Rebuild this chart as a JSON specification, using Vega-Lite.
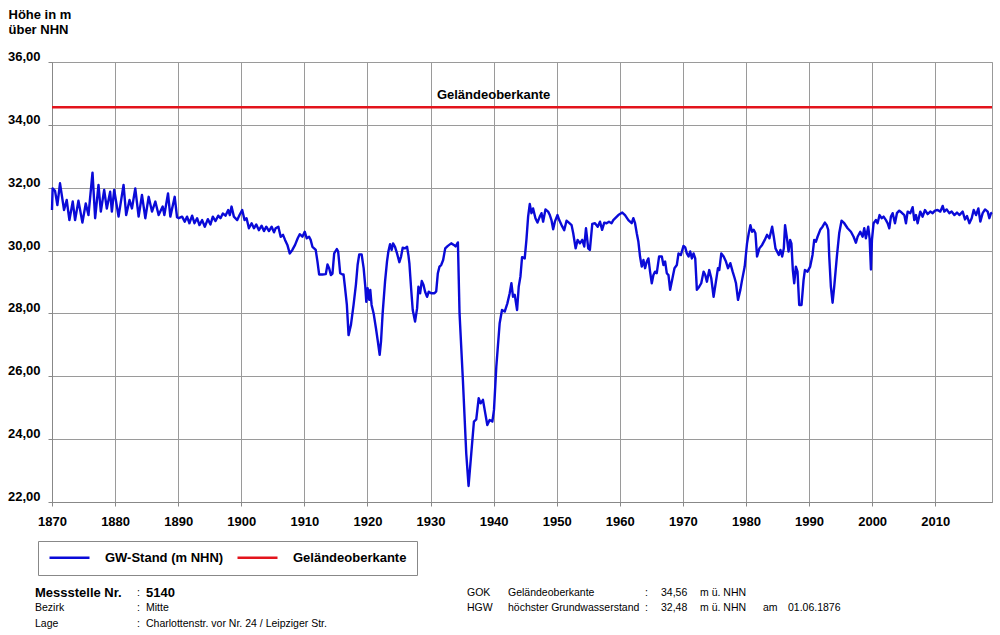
{
  "$schema": "https://vega.github.io/schema/vega-lite/v6.json",
  "width": 940,
  "height": 440,
  "autosize": {"type": "none"},
  "padding": {"left": 52, "top": 62, "right": 8, "bottom": 133},
  "background": "white",
  "config": {"font": "Liberation Sans", "view": {"stroke": "#999", "strokeWidth": 1}},
  "datasets": {
    "gw": [
      {"t":1870.0,"v":31.29},{"t":1870.1,"v":31.98},{"t":1870.48,"v":31.9},{"t":1870.85,"v":31.45},{"t":1871.27,"v":32.14},{"t":1871.91,"v":31.29},{"t":1872.33,"v":31.61},{"t":1872.76,"v":30.97},{"t":1873.29,"v":31.56},{"t":1873.66,"v":30.97},{"t":1874.19,"v":31.59},{"t":1874.82,"v":30.89},{"t":1875.35,"v":31.5},{"t":1875.78,"v":31.13},{"t":1876.42,"v":32.48},{"t":1876.84,"v":31.03},{"t":1877.37,"v":32.09},{"t":1877.74,"v":31.24},{"t":1878.27,"v":31.93},{"t":1878.69,"v":31.34},{"t":1879.22,"v":31.87},{"t":1879.49,"v":31.24},{"t":1879.86,"v":31.93},{"t":1880.55,"v":31.08},{"t":1881.34,"v":32.09},{"t":1881.76,"v":31.13},{"t":1882.29,"v":31.61},{"t":1882.67,"v":31.34},{"t":1883.2,"v":31.98},{"t":1883.73,"v":31.08},{"t":1884.26,"v":31.77},{"t":1884.79,"v":31.03},{"t":1885.32,"v":31.71},{"t":1885.85,"v":31.24},{"t":1886.38,"v":31.56},{"t":1886.9,"v":31.13},{"t":1887.54,"v":31.4},{"t":1887.81,"v":31.13},{"t":1888.39,"v":31.82},{"t":1888.76,"v":31.08},{"t":1889.45,"v":31.71},{"t":1889.82,"v":31.06},
      {"t":1890.09,"v":31.03},{"t":1890.62,"v":31.08},{"t":1891.04,"v":30.92},{"t":1891.41,"v":31.08},{"t":1891.78,"v":30.87},{"t":1892.21,"v":31.11},{"t":1892.58,"v":30.87},{"t":1893.0,"v":31.03},{"t":1893.37,"v":30.81},{"t":1893.8,"v":30.97},{"t":1894.22,"v":30.76},{"t":1894.7,"v":31.0},{"t":1895.12,"v":30.83},{"t":1895.49,"v":31.08},{"t":1895.92,"v":30.94},{"t":1896.34,"v":31.11},{"t":1896.71,"v":31.03},{"t":1897.08,"v":31.18},{"t":1897.5,"v":31.11},{"t":1897.93,"v":31.29},{"t":1898.19,"v":31.13},{"t":1898.46,"v":31.4},{"t":1898.83,"v":31.08},{"t":1899.36,"v":30.97},{"t":1899.73,"v":31.13},{"t":1900.15,"v":31.29},{"t":1900.52,"v":30.97},{"t":1900.84,"v":31.03},{"t":1901.21,"v":30.71},{"t":1901.64,"v":30.87},{"t":1902.01,"v":30.71},{"t":1902.38,"v":30.83},{"t":1902.8,"v":30.65},{"t":1903.23,"v":30.79},{"t":1903.6,"v":30.62},{"t":1903.97,"v":30.76},{"t":1904.39,"v":30.62},{"t":1904.82,"v":30.76},{"t":1905.19,"v":30.58},{"t":1905.45,"v":30.71},{"t":1905.88,"v":30.76},{"t":1906.25,"v":30.44},{"t":1906.62,"v":30.5},{"t":1906.94,"v":30.34},{"t":1907.31,"v":30.18},{"t":1907.68,"v":29.91},{"t":1908.1,"v":30.02},{"t":1908.53,"v":30.18},{"t":1908.95,"v":30.39},{"t":1909.27,"v":30.52},{"t":1909.69,"v":30.44},
      {"t":1910.06,"v":30.6},{"t":1910.38,"v":30.39},{"t":1910.75,"v":30.44},{"t":1911.0,"v":30.34},{"t":1911.28,"v":30.12},{"t":1911.55,"v":30.07},{"t":1911.8,"v":30.02},{"t":1912.08,"v":29.65},{"t":1912.34,"v":29.24},{"t":1912.87,"v":29.24},{"t":1913.4,"v":29.25},{"t":1913.67,"v":29.56},{"t":1913.93,"v":29.44},{"t":1914.2,"v":29.22},{"t":1914.46,"v":29.27},{"t":1914.73,"v":29.91},{"t":1915.15,"v":30.05},{"t":1915.36,"v":29.97},{"t":1915.68,"v":29.28},{"t":1916.05,"v":29.24},{"t":1916.21,"v":29.24},{"t":1916.43,"v":28.85},{"t":1916.74,"v":28.27},{"t":1917.01,"v":27.31},{"t":1917.38,"v":27.63},{"t":1917.8,"v":28.27},{"t":1918.17,"v":28.91},{"t":1918.44,"v":29.54},{"t":1918.7,"v":29.88},{"t":1919.08,"v":29.88},{"t":1919.4,"v":29.44},{"t":1919.66,"v":28.85},{"t":1919.82,"v":28.37},{"t":1920.03,"v":28.8},{"t":1920.29,"v":28.43},{"t":1920.45,"v":28.75},{"t":1920.66,"v":28.27},{"t":1920.98,"v":28.0},{"t":1921.35,"v":27.53},{"t":1921.62,"v":27.15},{"t":1921.94,"v":26.68},{"t":1922.15,"v":27.1},{"t":1922.41,"v":28.0},{"t":1922.79,"v":29.01},{"t":1923.1,"v":29.65},{"t":1923.32,"v":29.97},{"t":1923.58,"v":30.2},{"t":1923.84,"v":30.02},{"t":1924.06,"v":30.23},{"t":1924.37,"v":30.12},{"t":1924.69,"v":29.91},{"t":1925.06,"v":29.63},{"t":1925.33,"v":29.81},{"t":1925.59,"v":30.09},{"t":1925.96,"v":30.07},{"t":1926.28,"v":30.12},{"t":1926.49,"v":29.86},{"t":1926.65,"v":29.59},{"t":1926.92,"v":28.8},{"t":1927.18,"v":28.11},{"t":1927.55,"v":27.74},{"t":1927.87,"v":28.16},{"t":1928.08,"v":28.85},{"t":1928.35,"v":28.64},{"t":1928.61,"v":29.03},{"t":1928.88,"v":28.91},{"t":1929.14,"v":28.69},{"t":1929.45,"v":28.53},{"t":1929.72,"v":28.69},{"t":1930.1,"v":28.64},{"t":1930.63,"v":28.64},{"t":1930.9,"v":28.7},
      {"t":1931.16,"v":29.28},{"t":1931.42,"v":29.49},{"t":1931.69,"v":29.54},{"t":1932.0,"v":29.7},{"t":1932.33,"v":30.07},{"t":1932.75,"v":30.15},{"t":1933.28,"v":30.23},{"t":1933.7,"v":30.18},{"t":1933.97,"v":30.13},{"t":1934.34,"v":30.26},{"t":1934.6,"v":28.0},{"t":1935.13,"v":25.88},{"t":1935.66,"v":23.55},{"t":1936.03,"v":22.51},{"t":1936.46,"v":23.55},{"t":1936.88,"v":24.56},{"t":1937.25,"v":24.63},{"t":1937.63,"v":25.3},{"t":1937.94,"v":25.14},{"t":1938.31,"v":25.25},{"t":1938.68,"v":24.82},{"t":1939.0,"v":24.45},{"t":1939.37,"v":24.61},{"t":1939.8,"v":24.56},{"t":1940.06,"v":24.93},{"t":1940.43,"v":26.31},{"t":1940.96,"v":27.69},{"t":1941.33,"v":28.11},{"t":1941.76,"v":28.06},{"t":1942.18,"v":28.32},{"t":1942.55,"v":28.64},{"t":1942.82,"v":28.96},{"t":1943.08,"v":28.53},{"t":1943.35,"v":28.59},{"t":1943.72,"v":28.11},{"t":1943.98,"v":28.85},{"t":1944.25,"v":29.17},{"t":1944.51,"v":29.79},{"t":1944.93,"v":29.75},{"t":1945.2,"v":30.34},{"t":1945.47,"v":31.08},{"t":1945.73,"v":31.48},{"t":1946.0,"v":31.19},{"t":1946.26,"v":31.34},{"t":1946.63,"v":31.03},{"t":1946.95,"v":30.89},{"t":1947.32,"v":31.08},{"t":1947.59,"v":31.19},{"t":1947.85,"v":30.92},{"t":1948.22,"v":31.31},{"t":1948.64,"v":31.24},{"t":1948.91,"v":31.13},{"t":1949.17,"v":30.97},{"t":1949.44,"v":30.68},{"t":1949.71,"v":30.92},
      {"t":1950.13,"v":31.13},{"t":1950.4,"v":30.97},{"t":1950.77,"v":30.81},{"t":1951.19,"v":30.65},{"t":1951.56,"v":30.95},{"t":1951.93,"v":30.89},{"t":1952.36,"v":30.81},{"t":1952.62,"v":30.55},{"t":1953.0,"v":30.07},{"t":1953.32,"v":30.34},{"t":1953.68,"v":30.23},{"t":1954.05,"v":30.34},{"t":1954.37,"v":30.13},{"t":1954.64,"v":30.71},{"t":1955.0,"v":30.07},{"t":1955.26,"v":30.02},{"t":1955.64,"v":30.85},{"t":1956.07,"v":30.87},{"t":1956.5,"v":30.76},{"t":1956.86,"v":30.92},{"t":1957.2,"v":30.66},{"t":1957.54,"v":30.89},{"t":1957.9,"v":30.87},{"t":1958.29,"v":30.92},{"t":1958.7,"v":30.87},{"t":1958.97,"v":30.97},{"t":1959.77,"v":31.13},{"t":1960.4,"v":31.21},{"t":1960.83,"v":31.13},{"t":1961.36,"v":30.97},{"t":1961.89,"v":30.87},{"t":1962.15,"v":31.03},{"t":1962.42,"v":30.87},{"t":1962.69,"v":30.55},{"t":1962.95,"v":30.28},{"t":1963.21,"v":29.81},{"t":1963.48,"v":29.49},{"t":1963.75,"v":29.7},{"t":1964.01,"v":29.44},{"t":1964.28,"v":29.65},{"t":1964.54,"v":29.75},{"t":1964.8,"v":29.33},{"t":1965.07,"v":28.96},{"t":1965.33,"v":29.22},{"t":1965.6,"v":29.33},{"t":1965.86,"v":29.28},{"t":1966.23,"v":29.81},{"t":1966.66,"v":29.81},{"t":1966.92,"v":29.54},{"t":1967.19,"v":29.65},{"t":1967.45,"v":29.28},{"t":1967.72,"v":29.22},{"t":1967.98,"v":28.75},{"t":1968.35,"v":29.12},{"t":1968.67,"v":29.44},{"t":1969.04,"v":29.54},{"t":1969.31,"v":29.91},{"t":1969.68,"v":29.86},
      {"t":1970.1,"v":30.15},{"t":1970.37,"v":30.1},{"t":1970.63,"v":29.91},{"t":1970.9,"v":29.81},{"t":1971.16,"v":29.97},{"t":1971.43,"v":29.75},{"t":1971.69,"v":29.91},{"t":1971.96,"v":29.75},{"t":1972.22,"v":28.75},{"t":1972.59,"v":28.85},{"t":1972.91,"v":28.96},{"t":1973.28,"v":29.33},{"t":1973.55,"v":29.22},{"t":1973.81,"v":29.01},{"t":1974.18,"v":29.38},{"t":1974.5,"v":29.12},{"t":1974.87,"v":28.53},{"t":1975.24,"v":29.01},{"t":1975.56,"v":29.44},{"t":1975.77,"v":29.38},{"t":1976.09,"v":29.91},{"t":1976.46,"v":29.81},{"t":1976.83,"v":29.65},{"t":1977.15,"v":29.44},{"t":1977.52,"v":29.6},{"t":1977.89,"v":29.33},{"t":1978.21,"v":29.12},{"t":1978.42,"v":28.96},{"t":1978.74,"v":28.43},{"t":1979.11,"v":28.75},{"t":1979.38,"v":29.06},{"t":1979.8,"v":29.49},{"t":1980.17,"v":30.23},{"t":1980.44,"v":30.55},{"t":1980.7,"v":30.81},{"t":1980.97,"v":30.6},{"t":1981.23,"v":30.66},{"t":1981.5,"v":30.55},{"t":1981.76,"v":29.81},{"t":1982.13,"v":30.07},{"t":1982.56,"v":30.18},{"t":1982.98,"v":30.34},{"t":1983.35,"v":30.5},{"t":1983.72,"v":30.39},{"t":1984.15,"v":30.76},{"t":1984.41,"v":30.44},{"t":1984.68,"v":30.07},{"t":1985.21,"v":29.86},{"t":1985.47,"v":30.02},{"t":1985.74,"v":29.81},{"t":1986.0,"v":30.07},{"t":1986.2,"v":30.81},{"t":1986.5,"v":30.39},{"t":1986.75,"v":29.97},{"t":1987.0,"v":30.34},{"t":1987.2,"v":30.23},{"t":1987.43,"v":29.38},{"t":1987.65,"v":28.96},{"t":1987.91,"v":29.49},{"t":1988.17,"v":29.33},{"t":1988.44,"v":28.27},{"t":1988.81,"v":28.27},{"t":1989.13,"v":29.06},{"t":1989.34,"v":29.38},{"t":1989.76,"v":29.33},
      {"t":1990.18,"v":29.49},{"t":1990.55,"v":29.86},{"t":1990.82,"v":30.34},{"t":1991.08,"v":30.28},{"t":1991.35,"v":30.44},{"t":1991.77,"v":30.66},{"t":1992.14,"v":30.76},{"t":1992.51,"v":30.89},{"t":1992.8,"v":30.81},{"t":1993.04,"v":30.66},{"t":1993.2,"v":29.81},{"t":1993.46,"v":28.85},{"t":1993.73,"v":28.34},{"t":1993.99,"v":28.85},{"t":1994.41,"v":29.81},{"t":1994.78,"v":30.55},{"t":1995.15,"v":30.95},{"t":1995.58,"v":30.87},{"t":1996.11,"v":30.71},{"t":1996.64,"v":30.6},{"t":1997.06,"v":30.44},{"t":1997.43,"v":30.25},{"t":1997.7,"v":30.44},{"t":1998.12,"v":30.6},{"t":1998.49,"v":30.44},{"t":1998.75,"v":30.71},{"t":1999.01,"v":30.39},{"t":1999.38,"v":30.76},{"t":1999.6,"v":30.39},{"t":1999.81,"v":29.4},{"t":1999.97,"v":30.34},{"t":2000.23,"v":30.87},{"t":2000.6,"v":30.97},{"t":2000.86,"v":30.87},{"t":2001.18,"v":31.13},{"t":2001.5,"v":31.03},{"t":2001.82,"v":31.08},{"t":2002.19,"v":30.97},{"t":2002.45,"v":30.87},{"t":2002.72,"v":30.71},{"t":2002.98,"v":31.08},{"t":2003.25,"v":31.19},{"t":2003.62,"v":30.87},{"t":2003.93,"v":31.19},{"t":2004.3,"v":31.27},{"t":2004.67,"v":31.21},{"t":2005.1,"v":31.13},{"t":2005.36,"v":30.87},{"t":2005.63,"v":31.24},{"t":2006.05,"v":31.19},{"t":2006.42,"v":31.38},{"t":2006.68,"v":30.97},{"t":2006.95,"v":31.13},{"t":2007.21,"v":30.87},{"t":2007.63,"v":31.24},{"t":2008.0,"v":31.08},{"t":2008.37,"v":31.29},{"t":2008.8,"v":31.16},{"t":2009.22,"v":31.24},{"t":2009.59,"v":31.19},{"t":2009.96,"v":31.27},{"t":2010.38,"v":31.29},{"t":2010.81,"v":31.24},{"t":2011.18,"v":31.42},{"t":2011.44,"v":31.24},{"t":2011.81,"v":31.31},{"t":2012.23,"v":31.19},{"t":2012.6,"v":31.24},{"t":2013.03,"v":31.13},{"t":2013.45,"v":31.21},{"t":2013.82,"v":31.13},{"t":2014.35,"v":31.24},{"t":2014.72,"v":30.99},{"t":2015.04,"v":31.1},{"t":2015.41,"v":30.87},{"t":2015.78,"v":31.03},{"t":2016.1,"v":31.29},{"t":2016.47,"v":31.13},{"t":2016.84,"v":31.34},{"t":2017.15,"v":30.92},{"t":2017.52,"v":31.19},{"t":2017.9,"v":31.31},{"t":2018.32,"v":31.24},{"t":2018.58,"v":31.03},{"t":2018.85,"v":31.19},{"t":2019.0,"v":31.21}
    ],
    "gok": [{"series": "Geländeoberkante", "v": 34.56}],
    "info": [
      {"r":1,"c":1,"t":"Messstelle Nr.","k":"b"},
      {"r":1,"c":2,"t":":","k":"n"},
      {"r":1,"c":3,"t":"5140","k":"b"},
      {"r":1,"c":4,"t":"GOK","k":"n"},
      {"r":1,"c":5,"t":"Geländeoberkante","k":"n"},
      {"r":1,"c":6,"t":":","k":"n"},
      {"r":1,"c":7,"t":"34,56","k":"n"},
      {"r":1,"c":8,"t":"m ü. NHN","k":"n"},
      {"r":2,"c":1,"t":"Bezirk","k":"n"},
      {"r":2,"c":2,"t":":","k":"n"},
      {"r":2,"c":3,"t":"Mitte","k":"n"},
      {"r":2,"c":4,"t":"HGW","k":"n"},
      {"r":2,"c":5,"t":"höchster Grundwasserstand","k":"n"},
      {"r":2,"c":6,"t":":","k":"n"},
      {"r":2,"c":7,"t":"32,48","k":"n"},
      {"r":2,"c":8,"t":"m ü. NHN","k":"n"},
      {"r":2,"c":9,"t":"am","k":"n"},
      {"r":2,"c":10,"t":"01.06.1876","k":"n"},
      {"r":3,"c":1,"t":"Lage","k":"n"},
      {"r":3,"c":2,"t":":","k":"n"},
      {"r":3,"c":3,"t":"Charlottenstr. vor Nr. 24 / Leipziger Str.","k":"n"}
    ]
  },
  "layer": [
    {
      "layer": [
        {
          "data": {"name": "gw"},
          "mark": {"type": "line", "strokeWidth": 2.4, "strokeJoin": "round"},
          "encoding": {
            "x": {
              "field": "t", "type": "quantitative",
              "scale": {"domain": [1870, 2019], "nice": false, "zero": false},
              "axis": {
                "values": [1870,1875,1880,1885,1890,1895,1900,1905,1910,1915,1920,1925,1930,1935,1940,1945,1950,1955,1960,1965,1970,1975,1980,1985,1990,1995,2000,2005,2010,2015],
                "format": "d",
                "labelExpr": "datum.value % 10 === 0 ? datum.label : ''",
                "grid": true,
                "gridColor": "#9a9a9a",
                "gridOpacity": {"condition": {"test": "datum.value % 10 === 0", "value": 1}, "value": 0},
                "tickSize": 4, "tickColor": "#888", "domainColor": "#888",
                "labelFontSize": 13, "labelFontWeight": "bold", "labelColor": "black",
                "labelPadding": 9, "labelFlush": false, "labelOverlap": false,
                "title": null
              }
            },
            "y": {
              "field": "v", "type": "quantitative",
              "scale": {"domain": [22, 36], "nice": false, "zero": false},
              "axis": {
                "values": [22,23,24,25,26,27,28,29,30,31,32,33,34,35,36],
                "labelExpr": "datum.value % 2 === 0 ? replace(format(datum.value, '.2f'), '.', ',') : ''",
                "grid": true,
                "gridColor": "#9a9a9a",
                "gridOpacity": {"condition": {"test": "datum.value % 2 === 0", "value": 1}, "value": 0},
                "tickSize": 4, "tickColor": "#888", "domainColor": "#888",
                "labelFontSize": 13, "labelFontWeight": "bold", "labelColor": "black",
                "labelPadding": 8, "labelBaseline": "alphabetic", "labelOffset": -1.5,
                "labelFlush": false, "labelOverlap": false,
                "title": ["Höhe in m", "über NHN"],
                "titleAngle": 0, "titleAlign": "left", "titleBaseline": "alphabetic",
                "titleX": -44, "titleY": -43.7,
                "titleFontSize": 13, "titleFontWeight": "bold", "titleColor": "black",
                "titleLineHeight": 15
              }
            },
            "color": {
              "datum": "GW-Stand (m NHN)", "type": "nominal",
              "scale": {"domain": ["GW-Stand (m NHN)", "Geländeoberkante"], "range": ["#0a0ad8", "#e3141c"]},
              "legend": {
                "orient": "none", "legendX": -14, "legendY": 479,
                "direction": "horizontal", "title": null,
                "symbolType": "M-1,0H7", "symbolSize": 100, "symbolStrokeWidth": 2.5,
                "labelOffset": 44, "labelFontSize": 13, "labelFontWeight": "bold", "labelColor": "black",
                "labelLimit": 300, "columnPadding": 8, "padding": 10,
                "strokeColor": "#888", "fillColor": "white"
              }
            }
          }
        },
        {
          "data": {"name": "gok"},
          "mark": {"type": "rule", "strokeWidth": 2.5},
          "encoding": {
            "y": {"field": "v", "type": "quantitative"},
            "color": {"datum": "Geländeoberkante", "type": "nominal"}
          }
        },
        {
          "data": {"name": "gok"},
          "mark": {"type": "text", "fontWeight": "bold", "fontSize": 13, "baseline": "bottom", "align": "center", "dy": -5, "color": "black"},
          "encoding": {
            "x": {"datum": 1940, "type": "quantitative"},
            "y": {"field": "v", "type": "quantitative"},
            "text": {"field": "series"}
          }
        }
      ]
    },
    {
      "data": {"name": "info"},
      "encoding": {
        "x": {"field": "c", "type": "quantitative", "scale": {"domain": [1,2,3,4,5,6,7,8,9,10], "range": [-17,85,94,415,456,593,609,648,711,736], "nice": false, "zero": false}, "axis": null},
        "y": {"field": "r", "type": "quantitative", "scale": {"domain": [1,2,3], "range": [531,546,562], "nice": false, "zero": false}, "axis": null},
        "text": {"field": "t"}
      },
      "layer": [
        {
          "transform": [{"filter": "datum.k === 'b'"}],
          "mark": {"type": "text", "align": "left", "baseline": "middle", "fontSize": 13, "fontWeight": "bold", "color": "black"}
        },
        {
          "transform": [{"filter": "datum.k === 'n'"}],
          "mark": {"type": "text", "align": "left", "baseline": "middle", "fontSize": 10.5, "color": "black"}
        }
      ]
    }
  ],
  "resolve": {"scale": {"x": "independent", "y": "independent"}, "axis": {"x": "independent", "y": "independent"}}
}
